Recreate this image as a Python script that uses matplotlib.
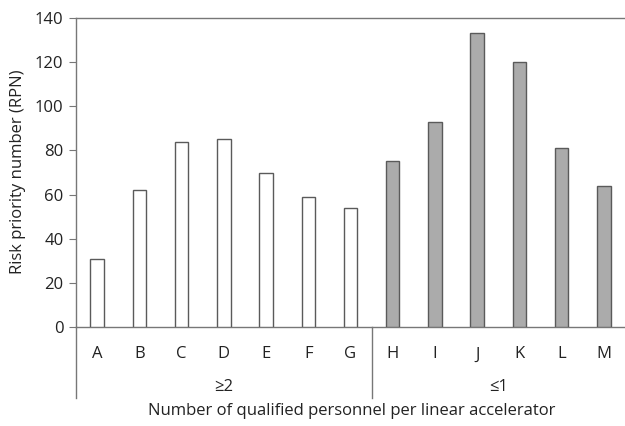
import matplotlib
matplotlib.use("Agg")
import matplotlib.pyplot as plt
import numpy as np

plt.rcParams["font.family"] = ["Open Sans", "DejaVu Sans"]

categories = ["A", "B", "C", "D", "E", "F", "G", "H", "I", "J", "K", "L", "M"]
rpn = [31, 62, 84, 85, 70, 59, 54, 75, 93, 133, 120, 81, 64]
group_labels = ["\u22652", "\u22641"]
group_sizes = [7, 6]

W, H = 625, 426
fig = plt.figure(figsize=(W / 100, H / 100), dpi=100)
ax = fig.add_axes([76 / W, (H - 327) / H, (W - 76) / W, (327 - 18) / H])

x = np.arange(len(categories)) + 0.5
n_first = group_sizes[0]
colors = ["white"] * n_first + ["#ababab"] * group_sizes[1]
ax.bar(x, rpn, width=0.32, color=colors, edgecolor="#5a5a5a", linewidth=1.0, zorder=3)

ax.set_xlim(0, len(categories))
ax.set_ylim(0, 140)
ax.set_yticks(np.arange(0, 141, 20))
ax.set_xticks(x)
ax.set_xticklabels(categories)

axis_col = "#777777"
for side in ["left", "bottom", "top"]:
    ax.spines[side].set_color(axis_col)
    ax.spines[side].set_linewidth(1.0)
ax.spines["right"].set_visible(False)

fs = 12
ax.tick_params(axis="y", length=5, color=axis_col, labelsize=fs, labelcolor="#222222", pad=4)
ax.tick_params(axis="x", length=0, labelsize=fs, labelcolor="#222222", pad=14)

# multi-level category axis lines
tr = ax.get_xaxis_transform()
ybot = -(398 - 327) / (327 - 18)
ax.plot([0, 0], [0, ybot], transform=tr, color=axis_col, lw=1.0, clip_on=False)
ax.plot([n_first, n_first], [0, ybot], transform=tr, color=axis_col, lw=1.0, clip_on=False)

ygrp = -(387 - 327) / (327 - 18)
ax.text(n_first / 2, ygrp, group_labels[0], transform=tr, ha="center", va="center",
        fontsize=fs, color="#222222")
ax.text(n_first + group_sizes[1] / 2, ygrp, group_labels[1], transform=tr, ha="center",
        va="center", fontsize=fs, color="#222222")

fig.text(352 / W, 1 - 411 / H, "Number of qualified personnel per linear accelerator",
         ha="center", va="center", fontsize=fs, color="#222222")
fig.text(18 / W, 1 - 172 / H, "Risk priority number (RPN)", rotation=90,
         ha="center", va="center", fontsize=fs, color="#222222")

fig.savefig("out.png", dpi=100)
